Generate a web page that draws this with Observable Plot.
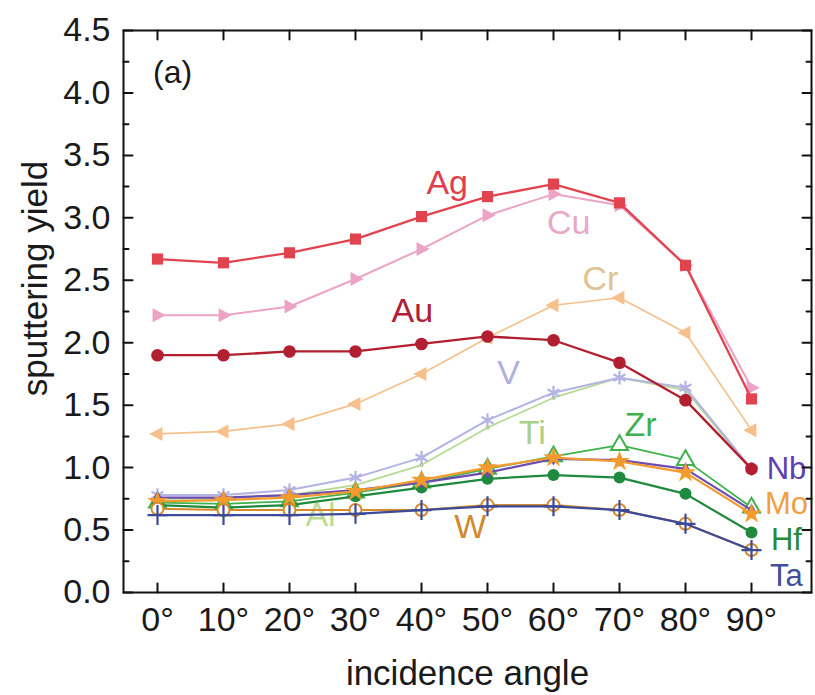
<!DOCTYPE html>
<html>
<head>
<meta charset="utf-8">
<script src="https://cdn.jsdelivr.net/npm/d3@7"></script>
<script src="https://cdn.jsdelivr.net/npm/@observablehq/plot@0.6"></script>
<style>
  html, body { margin: 0; padding: 0; background: #fff; }
  #chart svg { display: block; }
</style>
</head>
<body>
<div id="chart"></div>
<script>
// ---- data ----
const angles = [0, 10, 20, 30, 40, 50, 60, 70, 80, 90];
const Ag = [2.67, 2.64, 2.72, 2.83, 3.01, 3.17, 3.27, 3.12, 2.62, 1.55];
const Cu = [2.22, 2.22, 2.29, 2.51, 2.75, 3.02, 3.19, 3.10, 2.62, 1.64];
const Au = [1.90, 1.90, 1.93, 1.93, 1.99, 2.05, 2.02, 1.84, 1.54, 0.99];
const Cr = [1.27, 1.29, 1.35, 1.51, 1.75, 2.04, 2.30, 2.36, 2.08, 1.30];
const V  = [0.78, 0.78, 0.82, 0.92, 1.08, 1.38, 1.60, 1.72, 1.64, 0.99];
const Ti = [0.75, 0.75, 0.78, 0.86, 1.02, 1.32, 1.56, 1.72, 1.62, 0.98];
const Zr = [0.72, 0.71, 0.73, 0.80, 0.88, 0.99, 1.09, 1.18, 1.06, 0.68];
const Nb = [0.76, 0.76, 0.78, 0.82, 0.88, 0.96, 1.07, 1.06, 0.99, 0.66];
const Mo = [0.73, 0.74, 0.76, 0.81, 0.90, 1.00, 1.08, 1.05, 0.96, 0.63];
const Hf = [0.70, 0.68, 0.70, 0.77, 0.84, 0.91, 0.94, 0.92, 0.79, 0.48];
const W  = [0.67, 0.66, 0.66, 0.66, 0.66, 0.70, 0.70, 0.66, 0.55, 0.34];
const Ta = [0.62, 0.62, 0.62, 0.63, 0.66, 0.69, 0.69, 0.66, 0.55, 0.34];

const yMajorTicks = [0, 0.5, 1, 1.5, 2, 2.5, 3, 3.5, 4, 4.5];
const yMinorTicks = [0.25, 0.75, 1.25, 1.75, 2.25, 2.75, 3.25, 3.75, 4.25];

const labelNames = ["Ag", "Cu", "Cr", "Au", "V", "Ti", "Zr", "W", "Al"];
const labelX     = [43.9, 62.3, 67.1, 38.6, 53.2, 56.8, 73.2, 47.4, 24.7];
const labelY     = [3.28, 2.96, 2.51, 2.25, 1.76, 1.28, 1.34, 0.52, 0.62];
const sideNames  = ["Nb", "Mo", "Hf", "Ta"];
const sideX      = [95.3, 95.3, 95.3, 95.3];
const sideY      = [0.99, 0.705, 0.42, 0.135];

// ---- styles ----
const triRight = { draw(ctx, size) { const s = Math.sqrt(size) * 0.8; ctx.moveTo(s, 0); ctx.lineTo(-s * 0.6, -s * 0.85); ctx.lineTo(-s * 0.6, s * 0.85); ctx.closePath(); } };
const triLeft  = { draw(ctx, size) { const s = Math.sqrt(size) * 0.8; ctx.moveTo(-s, 0); ctx.lineTo(s * 0.6, -s * 0.85); ctx.lineTo(s * 0.6, s * 0.85); ctx.closePath(); } };
const tickShape = { draw(ctx, l) { ctx.moveTo(0, 0); ctx.lineTo(0, -l); } };

const series = [
  {name: "Cr", values: Cr, color: "#f5c08c", symbol: triLeft,   fill: true,  r: 5.8, sw: 1.7},
  {name: "Cu", values: Cu, color: "#eba3c6", symbol: triRight,  fill: true,  r: 5.8, sw: 2},
  {name: "Ag", values: Ag, color: "#e2444f", symbol: "square",  fill: true,  r: 6.3, sw: 2.3},
  {name: "Ti", values: Ti, color: "#b5da92", symbol: "circle",  fill: true,  r: 2.2, sw: 1.7},
  {name: "V",  values: V,  color: "#b3b3e4", symbol: "asterisk",fill: false, r: 6.5, sw: 2},
  {name: "Au", values: Au, color: "#b11f30", symbol: "circle",  fill: true,  r: 6.3, sw: 2.3},
  {name: "Zr", values: Zr, color: "#3fb24c", symbol: "triangle",fill: "#fff",r: 6.3, sw: 1.8},
  {name: "Hf", values: Hf, color: "#1f8a3e", symbol: "circle",  fill: true,  r: 6,   sw: 2.2},
  {name: "Nb", values: Nb, color: "#6a4cb2", symbol: "diamond", fill: true,  r: 4,   sw: 2.2},
  {name: "Mo", values: Mo, color: "#f39a2e", symbol: "star",    fill: true,  r: 6.5, sw: 2.2},
  {name: "W",  values: W,  color: "#d88a2a", symbol: "circle",  fill: "#fff",r: 6,   sw: 2},
  {name: "Ta", values: Ta, color: "#3c4a9a", symbol: "plus",    fill: false, r: 6.5, sw: 2.2}
];
const labelColors = {Ag: "#e0404e", Cu: "#e8a8c8", Cr: "#e2c194", Au: "#b02035", V: "#b0b0dc", Ti: "#a8d088",
  Zr: "#3fb04e", W: "#d08a30", Al: "#bcdc94", Nb: "#6040b0", Mo: "#f0a040", Hf: "#2a8a3a", Ta: "#40509a"};

const marks = [];
for (const s of series) {
  const rows = angles.map((a, i) => ({angle: a, value: s.values[i]}));
  marks.push(Plot.line(rows, {x: "angle", y: "value", stroke: s.color, strokeWidth: s.sw}));
  const dotOpts = {x: "angle", y: "value", symbol: () => s.symbol, r: s.r};
  if (s.fill === true) Object.assign(dotOpts, {fill: s.color, stroke: "none"});
  else if (s.fill === false) Object.assign(dotOpts, {fill: "none", stroke: s.color, strokeWidth: 2.2});
  else Object.assign(dotOpts, {fill: s.fill, stroke: s.color, strokeWidth: 2});
  marks.push(Plot.dot(rows, dotOpts));
}
const labels = labelNames.map((n, i) => ({name: n, x: labelX[i], y: labelY[i]}));
const sideLabels = sideNames.map((n, i) => ({name: n, x: sideX[i], y: sideY[i]}));

const chart = Plot.plot({
  width: 815, height: 695,
  marginLeft: 123, marginTop: 30, marginRight: 4, marginBottom: 103,
  x: {domain: [-5.15, 99.09]},
  y: {domain: [0, 4.5]},
  symbol: {type: "identity"},
  style: {fontFamily: "'Liberation Sans', Arial, sans-serif", background: "#fff", color: "#1a1a1a"},
  marks: [
    Plot.text(labels, {x: "x", y: "y", text: "name", fill: d => labelColors[d.name], fontSize: 34}),
    Plot.text(sideLabels, {x: "x", y: "y", text: "name", fill: d => labelColors[d.name], fontSize: 31}),
    ...marks,
    Plot.frame({stroke: "#111", strokeWidth: 2}),
    // inward ticks
    Plot.vector(angles, {x: d => d, frameAnchor: "bottom", anchor: "start", rotate: 0, length: 9, shape: tickShape, stroke: "#111", strokeWidth: 2}),
    Plot.vector(angles, {x: d => d, frameAnchor: "top", anchor: "start", rotate: 180, length: 9, shape: tickShape, stroke: "#111", strokeWidth: 2}),
    Plot.vector(yMajorTicks, {y: d => d, frameAnchor: "left", anchor: "start", rotate: 90, length: 9, shape: tickShape, stroke: "#111", strokeWidth: 2}),
    Plot.vector(yMinorTicks, {y: d => d, frameAnchor: "left", anchor: "start", rotate: 90, length: 5, shape: tickShape, stroke: "#111", strokeWidth: 2}),
    Plot.vector(yMajorTicks, {y: d => d, frameAnchor: "right", anchor: "start", rotate: -90, length: 9, shape: tickShape, stroke: "#111", strokeWidth: 2}),
    Plot.vector(yMinorTicks, {y: d => d, frameAnchor: "right", anchor: "start", rotate: -90, length: 5, shape: tickShape, stroke: "#111", strokeWidth: 2}),
    // tick labels
    Plot.axisX(angles, {anchor: "bottom", tickSize: 0, tickPadding: 14, tickFormat: d => d + "°", fontSize: 34, label: null}),
    Plot.axisY(yMajorTicks, {anchor: "left", tickSize: 0, tickPadding: 13, tickFormat: d3.format(".1f"), fontSize: 34, label: null}),
    // titles
    Plot.text(["sputtering yield"], {frameAnchor: "left", textAnchor: "middle", lineAnchor: "middle", dx: -88, dy: -33, rotate: -90, fontSize: 35, fill: "#1a1a1a"}),
    Plot.text(["incidence angle"], {frameAnchor: "bottom", textAnchor: "middle", lineAnchor: "middle", dy: 81, fontSize: 35, fill: "#1a1a1a"}),
    Plot.text(["(a)"], {x: [2.3], y: [4.16], fontSize: 32, fill: "#1a1a1a"})
  ]
});
document.getElementById("chart").append(chart);
</script>
</body>
</html>
